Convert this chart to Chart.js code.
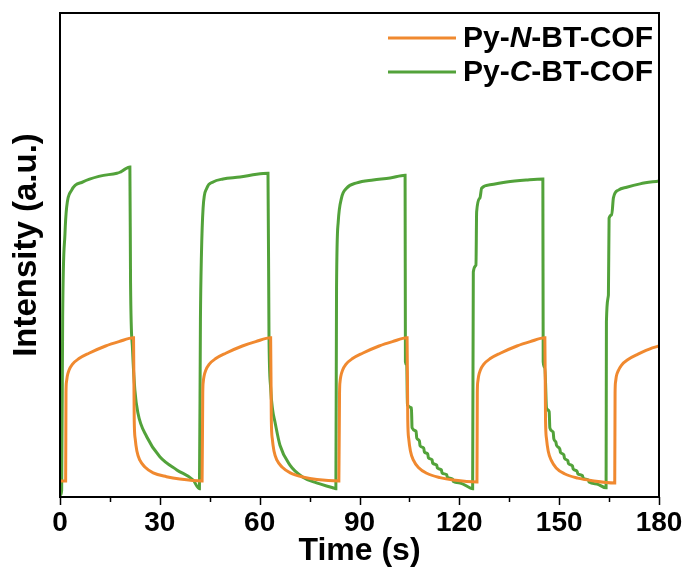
<!DOCTYPE html>
<html><head><meta charset="utf-8">
<script src="https://cdn.jsdelivr.net/npm/chart.js@4"></script>
<style>html,body{margin:0;padding:0;background:#fff;}</style>
</head><body>
<canvas id="c" width="687" height="568" style="display:block;width:687px;height:568px"></canvas>
<script>
const seriesNames = ["Py-N-BT-COF", "Py-C-BT-COF"];
const legendParts = [["Py-", "N", "-BT-COF"], ["Py-", "C", "-BT-COF"]];
const seriesColors = ["#F0892F", "#52A23A"];
const xTicks = [0, 30, 60, 90, 120, 150, 180];
const xTitle = "Time (s)";
const yTitle = "Intensity (a.u.)";

// Py-N-BT-COF (orange)
const timeN = [0, 1.7, 1.8, 1.95, 2.2, 2.7, 3.7, 5.7, 8.7, 13.7, 17.7, 22.1,
  22.3, 22.6, 23.1, 24.0, 25.5, 28.0, 32.0, 36.0, 42.7,
  42.9, 43.05, 43.3, 43.8, 44.8, 46.8, 49.8, 54.8, 58.8, 63.3,
  63.5, 63.8, 64.3, 65.2, 66.7, 69.2, 73.2, 77.2, 83.8,
  84.0, 84.15, 84.4, 84.9, 85.9, 87.9, 90.9, 95.9, 99.9, 104.3,
  104.5, 104.8, 105.3, 106.2, 107.7, 110.2, 114.2, 118.2, 125.3,
  125.4, 125.55, 125.8, 126.3, 127.3, 129.3, 132.3, 137.3, 141.3, 145.7,
  145.9, 146.2, 146.7, 147.6, 149.1, 151.6, 155.6, 159.6, 166.7,
  166.8, 166.95, 167.2, 167.7, 168.7, 170.7, 173.7, 178.0, 180.0];
const intensityN = [3.3, 3.3, 21.5, 23.8, 25.0, 26.2, 27.4, 28.6, 29.7, 31.2, 32.1, 32.9,
  16.0, 12.0, 9.5, 7.6, 6.2, 5.0, 4.2, 3.7, 3.3,
  21.5, 23.8, 25.0, 26.2, 27.4, 28.6, 29.7, 31.2, 32.1, 32.9,
  16.0, 12.0, 9.5, 7.6, 6.2, 5.0, 4.1, 3.6, 3.3,
  21.5, 23.8, 25.0, 26.2, 27.4, 28.6, 29.7, 31.2, 32.1, 32.9,
  16.0, 12.0, 9.5, 7.6, 6.1, 4.9, 4.0, 3.5, 3.1,
  21.5, 23.8, 25.0, 26.2, 27.4, 28.6, 29.7, 31.2, 32.1, 32.9,
  16.0, 12.0, 9.5, 7.6, 6.0, 4.8, 3.9, 3.4, 2.9,
  21.5, 23.8, 25.0, 26.0, 27.2, 28.4, 29.5, 30.8, 31.2];

// Py-C-BT-COF (green)
const timeC = [0.15, 0.5, 0.8, 1.5, 2.0, 3.5, 6.9, 12.0, 17.1, 18.0, 19.2, 21.0,
  21.2, 21.8, 22.5, 23.4, 26.1, 30.0, 35.1, 40.0, 41.9,
  42.2, 42.5, 43.0, 44.1, 46.0, 49.0, 54.1, 59.1, 62.5,
  62.8, 63.3, 63.9, 64.6, 66.1, 69.1, 73.0, 77.1, 82.0, 82.9,
  83.1, 83.6, 84.6, 86.1, 89.2, 94.1, 99.2, 103.7,
  103.8, 104.2, 104.4, 105.6, 105.8, 107.0, 107.2, 108.0, 108.2, 109.3, 109.5, 110.5, 110.7,
  111.8, 112.0, 113.2, 113.4, 114.6, 114.8, 116.2, 116.4, 118.0, 118.2, 120.2, 123.2, 124.0,
  124.2, 125.0, 125.2, 126.2, 126.7, 129.2, 134.2, 140.2, 145.1,
  145.2, 145.7, 146.2, 147.0, 147.2, 148.2, 148.4, 149.0, 149.2, 150.2, 150.4, 151.4, 151.6,
  152.6, 152.8, 154.0, 154.2, 155.4, 155.6, 157.0, 157.2, 158.8, 159.0, 161.3, 164.1,
  164.2, 164.8, 165.0, 165.8, 166.3, 167.8, 170.3, 174.3, 180.0];
const intensityC = [0.4, 1.4, 37.2, 54.5, 59.9, 63.4, 65.1, 66.3, 66.9, 67.1, 67.6, 68.2,
  44.2, 30.4, 22.1, 17.4, 12.4, 8.3, 5.6, 3.5, 1.7,
  36.6, 50.0, 59.7, 63.8, 65.1, 65.7, 66.1, 66.7, 66.9,
  33.5, 22.5, 18.0, 15.5, 10.7, 6.6, 4.1, 2.9, 1.9, 1.7,
  43.2, 56.8, 61.8, 63.8, 64.9, 65.5, 65.9, 66.5,
  27.9, 27.3, 19.0, 18.4, 14.3, 13.6, 12.2, 11.6, 10.6, 10.1, 9.3, 8.9, 8.1,
  7.7, 7.0, 6.6, 6.0, 5.6, 5.0, 4.6, 4.1, 3.7, 3.2, 2.9, 1.9, 1.7,
  46.5, 47.9, 58.9, 61.8, 63.8, 64.5, 65.1, 65.5, 65.7,
  27.9, 26.7, 18.4, 17.6, 14.3, 13.4, 12.0, 11.4, 10.7, 9.9, 9.2, 8.7, 8.0,
  7.5, 6.9, 6.4, 5.8, 5.3, 4.8, 4.4, 3.9, 3.5, 3.1, 2.7, 1.9,
  36.2, 41.7, 57.6, 58.3, 61.8, 63.4, 64.0, 64.7, 65.3];

const FONT = "'Liberation Sans', Arial, Helvetica, sans-serif";

function toPoints(ts, vs) { return ts.map((t, i) => ({ x: t, y: vs[i] })); }

const framePlugin = {
  id: 'frameAndLegend',
  afterDraw(chart) {
    const ctx = chart.ctx;
    const a = chart.chartArea;
    const xs = chart.scales.x;
    ctx.save();
    ctx.strokeStyle = '#000';
    ctx.lineWidth = 2;
    ctx.strokeRect(a.left, a.top, a.right - a.left, a.bottom - a.top);
    // ticks: major every 30, minor every 15
    ctx.lineWidth = 1.5;
    for (let v = xTicks[0]; v <= xTicks[xTicks.length - 1]; v += 15) {
      const px = Math.round(xs.getPixelForValue(v)) + 0.5;
      const len = (xTicks.indexOf(v) >= 0) ? 8 : 5;
      ctx.beginPath();
      ctx.moveTo(px, a.bottom);
      ctx.lineTo(px, a.bottom + len);
      ctx.stroke();
    }
    // y-axis title
    ctx.save();
    ctx.translate(27, 245);
    ctx.rotate(-Math.PI / 2);
    ctx.fillStyle = '#000';
    ctx.font = 'bold 33px ' + FONT;
    ctx.textAlign = 'center';
    ctx.textBaseline = 'middle';
    ctx.fillText(yTitle, 0, 0);
    ctx.restore();
    // legend
    const lx0 = 388, lx1 = 456, tx = 463;
    const rows = [38, 72];
    chart.data.datasets.forEach((ds, i) => {
      const y = rows[i];
      ctx.strokeStyle = ds.borderColor;
      ctx.lineWidth = 3;
      ctx.beginPath();
      ctx.moveTo(lx0, y);
      ctx.lineTo(lx1, y);
      ctx.stroke();
      let x = tx;
      ctx.fillStyle = '#000';
      ctx.textBaseline = 'middle';
      ctx.textAlign = 'left';
      legendParts[i].forEach((part, j) => {
        ctx.font = (j === 1 ? 'italic ' : '') + 'bold 30px ' + FONT;
        ctx.fillText(part, x, y + 1);
        x += ctx.measureText(part).width;
      });
    });
    ctx.restore();
  }
};

new Chart(document.getElementById('c'), {
  type: 'line',
  data: {
    datasets: [
      { label: seriesNames[0], data: toPoints(timeN, intensityN), borderColor: seriesColors[0], borderWidth: 3, pointRadius: 0, cubicInterpolationMode: 'monotone', fill: false },
      { label: seriesNames[1], data: toPoints(timeC, intensityC), borderColor: seriesColors[1], borderWidth: 3, pointRadius: 0, cubicInterpolationMode: 'monotone', fill: false }
    ]
  },
  options: {
    responsive: false,
    animation: false,
    devicePixelRatio: 1,
    layout: { padding: { top: 13, right: 28, left: 0, bottom: 0 } },
    plugins: { legend: { display: false }, tooltip: { enabled: false } },
    scales: {
      x: {
        type: 'linear', min: 0, max: 180,
        afterBuildTicks(s) { s.ticks = xTicks.map(v => ({ value: v })); },
        ticks: { color: '#000', font: { family: FONT, size: 28, weight: 'bold' }, padding: 9, maxRotation: 0, autoSkip: false },
        grid: { display: false, drawTicks: false, tickLength: 0 },
        border: { display: false },
        title: { display: true, text: xTitle, color: '#000', font: { family: FONT, size: 32, weight: 'bold', lineHeight: 1 }, padding: { top: 0, bottom: 1 } },
        afterFit(s) { s.height = 71; s.paddingLeft = 0; s.paddingRight = 0; }
      },
      y: {
        min: 0, max: 100,
        ticks: { display: false },
        grid: { display: false, drawTicks: false },
        border: { display: false },
        title: { display: false },
        afterFit(s) { s.width = 60; }
      }
    }
  },
  plugins: [framePlugin]
});
</script>
</body></html>
